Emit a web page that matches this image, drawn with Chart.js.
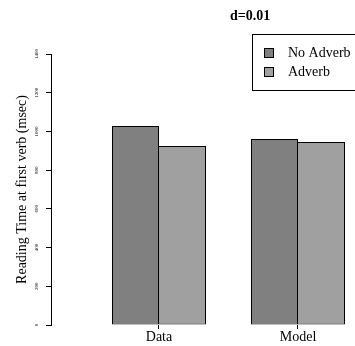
<!DOCTYPE html>
<html>
<head>
<meta charset="utf-8">
<script src="https://cdn.jsdelivr.net/npm/chart.js@4.4.1/dist/chart.umd.min.js"></script>
<style>
  html, body { margin: 0; padding: 0; background: #fff; overflow: hidden; }
  #wrap { width: 355px; height: 346px; }
</style>
</head>
<body>
<div id="wrap"><canvas id="bar-chart" width="355" height="346"></canvas></div>
<script>
// values
var categories = ["Data", "Model"];
var noAdverb = [1028, 961];
var adverb = [925, 945];
var seriesNames = ["No Adverb", "Adverb"];
var seriesColors = ["#808080", "#a0a0a0"];
var yTicks = [0, 200, 400, 600, 800, 1000, 1200, 1400];
var titleText = "d=0.01";
var yTitle = "Reading Time at first verb (msec)";

var serif = "'Liberation Serif', 'Times New Roman', serif";

// categories sit at x = 1, 2 on a linear axis so the y axis can stand apart
function toPoints(vals) {
  return vals.map(function (v, i) { return { x: i + 1, y: v }; });
}

var titlePlugin = {
  id: 'rTitle',
  afterDraw: function (chart) {
    var c = chart.ctx, a = chart.chartArea;
    c.save();
    c.font = "bold 14px " + serif;
    c.fillStyle = "#000";
    c.textAlign = "center";
    c.textBaseline = "middle";
    c.fillText(titleText, a.left + a.width * 0.655, 16);
    c.restore();
  }
};

var legendPlugin = {
  id: 'rLegend',
  afterDraw: function (chart) {
    var c = chart.ctx;
    var bx = 252.5, by = 34.5;
    c.save();
    c.fillStyle = "#fff";
    c.fillRect(bx, by, 130, 56);
    c.strokeStyle = "#000";
    c.lineWidth = 1;
    c.strokeRect(bx, by, 130, 56);
    c.font = "14px " + serif;
    c.textBaseline = "middle";
    c.textAlign = "left";
    chart.data.datasets.forEach(function (ds, i) {
      var y = 48.5 + i * 19;
      c.fillStyle = ds.backgroundColor;
      c.fillRect(264.5, y, 9, 9);
      c.strokeRect(264.5, y, 9, 9);
      c.fillStyle = "#000";
      c.fillText(ds.label, 288, y + 4.5);
    });
    c.restore();
  }
};

var ctx = document.getElementById("bar-chart");
var barChart = new Chart(ctx, {
  type: 'bar',
  data: {
    datasets: [
      {
        label: seriesNames[0],
        data: toPoints(noAdverb),
        backgroundColor: seriesColors[0],
        borderColor: "#000",
        borderWidth: 1,
        borderSkipped: false,
        categoryPercentage: 0.67626,
        barPercentage: 1
      },
      {
        label: seriesNames[1],
        data: toPoints(adverb),
        backgroundColor: seriesColors[1],
        borderColor: "#000",
        borderWidth: 1,
        borderSkipped: 'left', // shares the edge with the dark bar
        categoryPercentage: 0.67626,
        barPercentage: 1
      }
    ]
  },
  options: {
    responsive: false,
    animation: false,
    layout: { padding: { left: 0, right: 0, top: 54, bottom: 0 } },
    plugins: {
      legend: { display: false },
      title: { display: false },
      tooltip: { enabled: false }
    },
    scales: {
      x: {
        type: 'linear',
        offset: false,
        min: 0.223022,
        max: 2.410072,
        afterBuildTicks: function (scale) {
          scale.ticks = categories.map(function (c, i) { return { value: i + 1 }; });
        },
        afterFit: function (scale) { scale.height = 21; },
        ticks: {
          color: "#000",
          font: { family: serif, size: 14 },
          padding: 0,
          autoSkip: false,
          maxRotation: 0,
          callback: function (v) { return categories[v - 1]; }
        },
        grid: { offset: false, drawOnChartArea: false, tickLength: 4, color: "#000" },
        border: { display: false }
      },
      y: {
        min: 0,
        max: 1400,
        afterBuildTicks: function (scale) {
          scale.ticks = yTicks.map(function (v) { return { value: v }; });
        },
        afterFit: function (scale) { scale.width = 51; },
        ticks: {
          color: "#000",
          font: { family: serif, size: 5 },
          minRotation: 90,
          maxRotation: 90,
          crossAlign: 'center',
          padding: 4,
          callback: function (v) { return String(v); }
        },
        grid: { drawOnChartArea: false, tickLength: 5, color: "#000" },
        border: { display: true, color: "#000", width: 1 },
        title: {
          display: true,
          text: yTitle,
          color: "#000",
          font: { family: serif, size: 14 },
          padding: { top: 14, bottom: 0 }
        }
      }
    }
  },
  plugins: [titlePlugin, legendPlugin]
});
</script>
</body>
</html>
